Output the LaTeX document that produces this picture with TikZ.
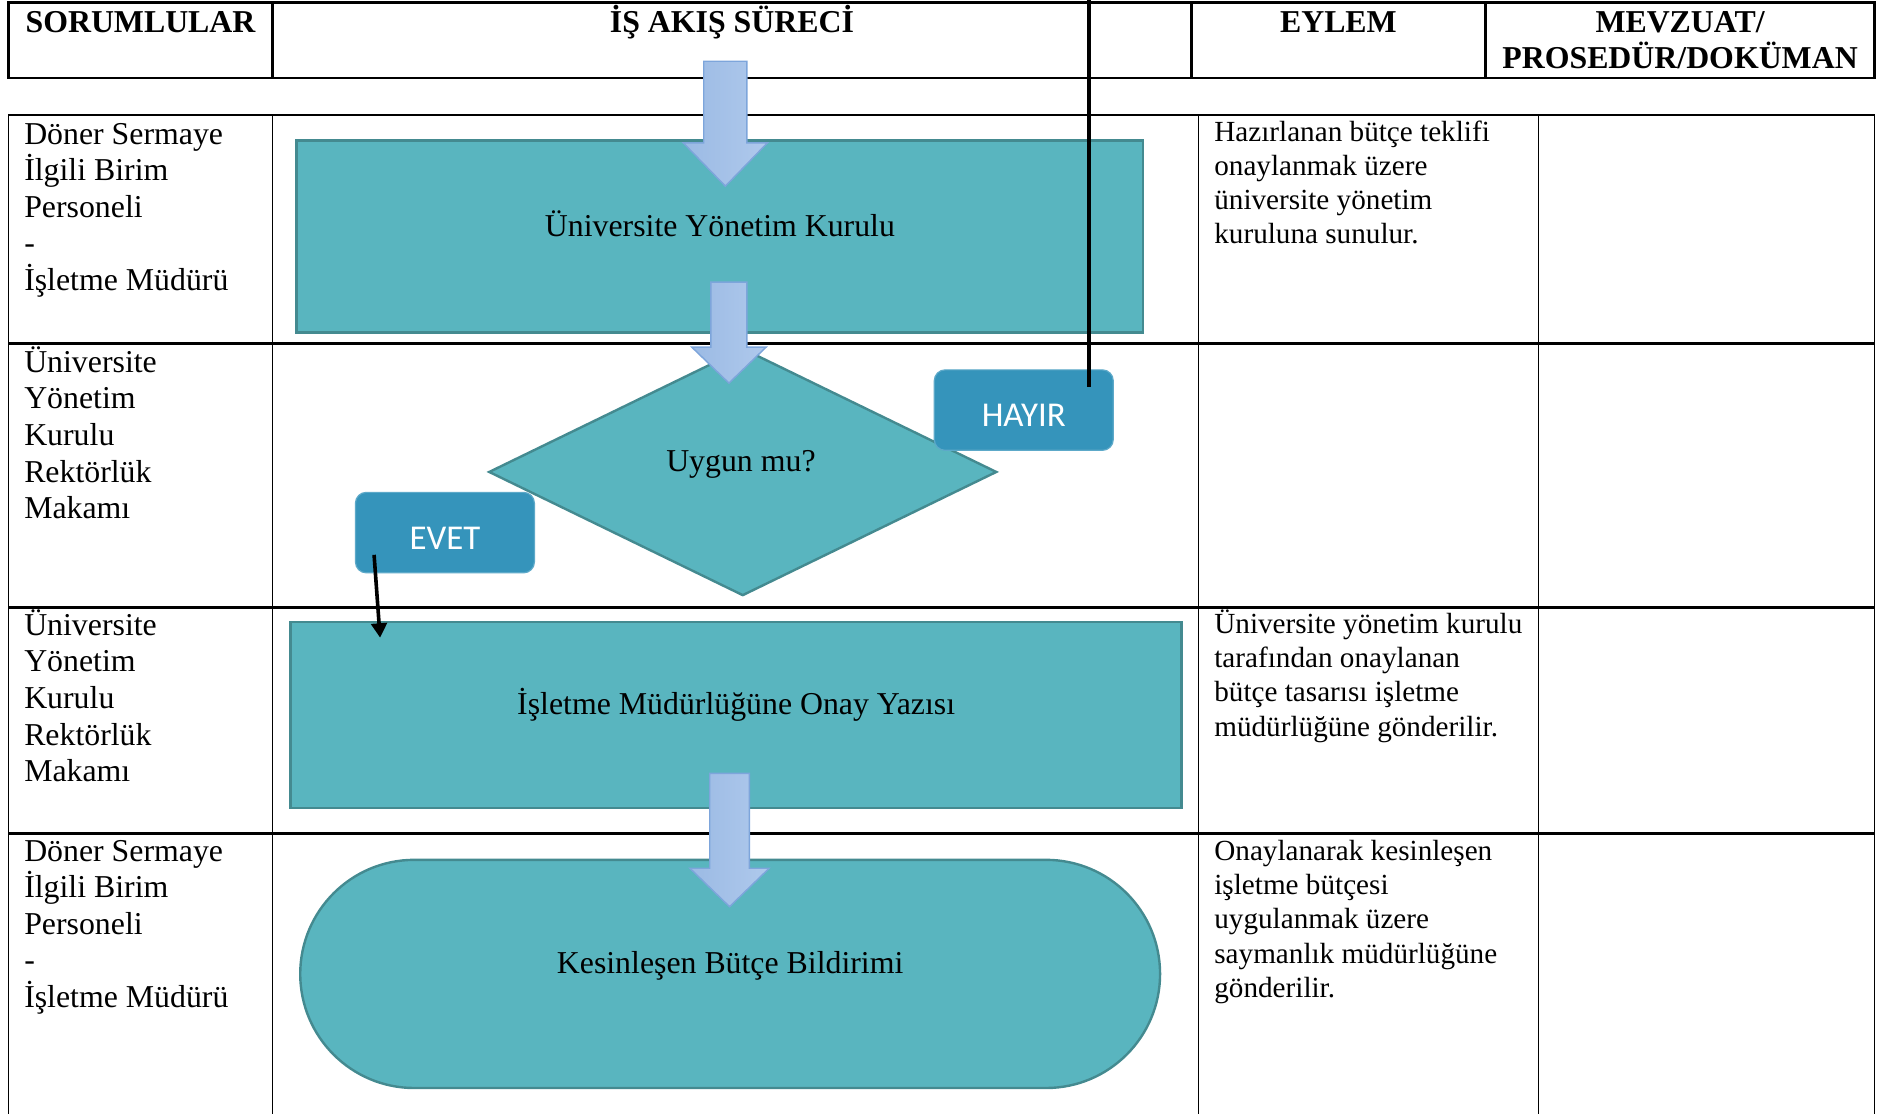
\documentclass[tikz,border=0pt]{standalone}
\usepackage{fontspec}
\setmainfont{Liberation Serif}
\newfontfamily\calfont{Carlito}
\usetikzlibrary{shapes.geometric,arrows.meta}
\definecolor{tealf}{HTML}{59B5BF}
\definecolor{teald}{HTML}{448A90}
\definecolor{lblf}{HTML}{3594BB}
\definecolor{arrl}{HTML}{9BBAE4}
\definecolor{arrr}{HTML}{AFC9EC}
\definecolor{arrd}{HTML}{7DA5DB}
\newcommand\myblockarrow[6]{% cx, ytop, ybase, ytip, shaft half, head half
  \path[shade, left color=arrl, right color=arrr, draw=arrd, line width=1.2pt, line join=miter]
    ({#1-#5},#2) -- ({#1+#5},#2) -- ({#1+#5},#3) -- ({#1+#6},#3) -- (#1,#4)
    -- ({#1-#6},#3) -- ({#1-#5},#3) -- cycle;}
\begin{document}
\begin{tikzpicture}[x=1pt,y=-1pt,
  hline/.style={line width=2pt},
  vline/.style={line width=1.3pt},
  mainfont/.style={font=\fontsize{26.5}{30.5}\selectfont},
  headfont/.style={font=\fontsize{26.5}{30.5}\selectfont\bfseries},
  actfont/.style={font=\fontsize{24.3}{28.5}\selectfont},
  procbox/.style={rectangle, draw=teald, fill=tealf, line width=2pt, inner sep=0pt},
  lblbox/.style={rectangle, rounded corners=9pt, fill=lblf, draw=lblf!80!white, line width=1pt, inner sep=0pt,
     minimum width=149pt, minimum height=67pt},
  lbltext/.style={font=\calfont\fontsize{29}{32}\selectfont, text=white, inner sep=0pt},
  cell/.style={inner sep=0pt, anchor=base west},
  conn/.style={line width=3pt, black}
]
\useasboundingbox (0,0) rectangle (1568,928);
\fill[white] (0,0) rectangle (1568,928);

% ---------- header table ----------
\draw[hline] (7,2) rectangle (1561,65);
\draw[hline] (227,2) -- (227,65);
\draw[hline] (992,2) -- (992,65);
\draw[hline] (1237,2) -- (1237,65);
\node[headfont, inner sep=0pt, anchor=base] (hsor) at (117,27) {SORUMLULAR};
\node[headfont, inner sep=0pt, anchor=base] (his) at (609.5,27) {İŞ AKIŞ SÜRECİ};
\node[headfont, inner sep=0pt, anchor=base] (heyl) at (1114.5,27) {EYLEM};
\node[headfont, inner sep=0pt, anchor=base] (hmev1) at (1399,27) {MEVZUAT/};
\node[headfont, inner sep=0pt, anchor=base] (hmev2) at (1399,57) {PROSEDÜR/DOKÜMAN};

% ---------- main table ----------
\draw[hline] (7,96) -- (1561,96);
\draw[hline] (7,286) -- (1561,286);
\draw[hline] (7,506) -- (1561,506);
\draw[hline] (7,694) -- (1561,694);
\draw[vline] (7,96) -- (7,928);
\draw[vline] (227,96) -- (227,928);
\draw[vline] (998,96) -- (998,928);
\draw[vline] (1281,96) -- (1281,928);
\draw[vline] (1561,96) -- (1561,928);

% left column
\foreach \t [count=\i from 0] in {Döner Sermaye, İlgili Birim, Personeli, -, İşletme Müdürü}
  \node[cell, mainfont] (ra\i) at (20,{120+30.5*\i}) {\t};
\foreach \t [count=\i from 0] in {Üniversite, Yönetim, Kurulu, Rektörlük, Makamı}
  \node[cell, mainfont] (rb\i) at (20,{310+30.5*\i}) {\t};
\foreach \t [count=\i from 0] in {Üniversite, Yönetim, Kurulu, Rektörlük, Makamı}
  \node[cell, mainfont] (rc\i) at (20,{529+30.5*\i}) {\t};
\foreach \t [count=\i from 0] in {Döner Sermaye, İlgili Birim, Personeli, -, İşletme Müdürü}
  \node[cell, mainfont] (rd\i) at (20,{717+30.5*\i}) {\t};

% action column
\foreach \t [count=\i from 0] in {Hazırlanan bütçe teklifi, onaylanmak üzere, üniversite yönetim, kuruluna sunulur.}
  \node[cell, actfont] (ea\i) at (1011,{117.5+28.5*\i}) {\t};
\foreach \t [count=\i from 0] in {Üniversite yönetim kurulu, tarafından onaylanan, bütçe tasarısı işletme, müdürlüğüne gönderilir.}
  \node[cell, actfont] (ec\i) at (1011,{527.5+28.5*\i}) {\t};
\foreach \t [count=\i from 0] in {Onaylanarak kesinleşen, işletme bütçesi, uygulanmak üzere, saymanlık müdürlüğüne, gönderilir.}
  \node[cell, actfont] (ed\i) at (1011,{716.5+28.5*\i}) {\t};

% ---------- flow shapes ----------
\node[procbox, minimum width=705pt, minimum height=160pt] (b1) at (599.5,197) {};
\node[mainfont, inner sep=0pt, anchor=base] (b1t) at (599.5,197) {Üniversite Yönetim Kurulu};

\node[diamond, draw=teald, fill=tealf, line width=2pt, inner sep=0pt,
      minimum width=423pt, minimum height=206pt] (d1) at (618.5,393) {};
\node[mainfont, inner sep=0pt, anchor=base] (d1t) at (617,393) {Uygun mu?};

\node[procbox, minimum width=742pt, minimum height=155pt] (b3) at (613,595.5) {};
\node[mainfont, inner sep=0pt, anchor=base] (b3t) at (613,595) {İşletme Müdürlüğüne Onay Yazısı};

\node[rectangle, rounded corners=95pt, draw=teald, fill=tealf, line width=2pt, inner sep=0pt,
      minimum width=716pt, minimum height=190pt] (b4) at (608,811) {};
\node[mainfont, inner sep=0pt, anchor=base] (b4t) at (608,811) {Kesinleşen Bütçe Bildirimi};

% labels
\node[lblbox] (hay) at (852.5,341.5) {};
\node[lbltext] (hayt) at (852.5,346) {HAYIR};
\node[lblbox] (evt) at (370.5,443.5) {};
\node[lbltext] (evtt) at (370.5,448) {EVET};

% ---------- block arrows ----------
\myblockarrow{604}{51}{119}{155}{18}{35}
\myblockarrow{607}{235}{289}{319}{15}{31}
\myblockarrow{607.5}{644}{723}{755}{16.5}{33}

% ---------- connectors ----------
\coordinate (h1) at (907,322);
\coordinate (h0) at (907,0);
\draw[conn] (h1) -- (h0);
\coordinate (e1) at (311.5,462);
\coordinate (e2) at (316.5,531);
\draw[conn, -{Triangle[length=12pt,width=13pt]}] (e1) -- (e2);
\end{tikzpicture}
\end{document}
